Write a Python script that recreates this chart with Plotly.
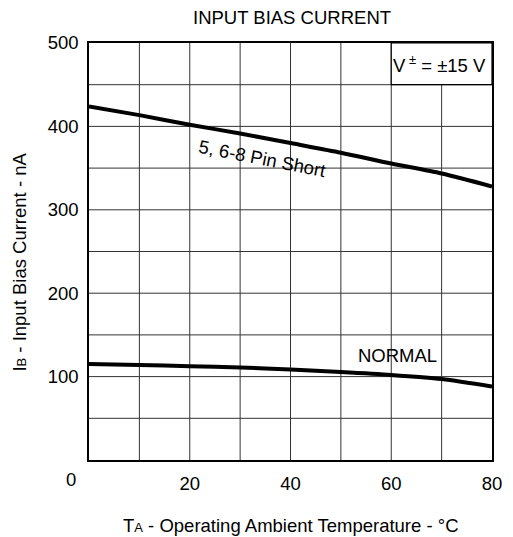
import plotly.graph_objects as go

temps = [0, 10, 20, 30, 40, 50, 60, 70, 80]
pin_short = [424, 413.5, 402, 391.5, 380, 368.5, 355.5, 343.5, 328]
normal = [115, 114, 112.5, 111, 108.5, 105.5, 102, 97, 88]
x_ticks = [20, 40, 60, 80]
y_ticks = [100, 200, 300, 400, 500]

FONT = "Liberation Sans, Arial, Helvetica, sans-serif"
FS = 18.5

fig = go.Figure()
fig.add_trace(go.Scatter(x=temps, y=pin_short, mode="lines",
                         line=dict(color="black", width=4, shape="spline", smoothing=0.8),
                         showlegend=False))
fig.add_trace(go.Scatter(x=temps, y=normal, mode="lines",
                         line=dict(color="black", width=4, shape="spline", smoothing=0.8),
                         showlegend=False))

fig.update_layout(
    width=513, height=537, autosize=False,
    margin=dict(l=89, r=11, t=43, b=77),
    plot_bgcolor="white", paper_bgcolor="white",
    font=dict(family=FONT, size=FS, color="black"),
    xaxis=dict(range=[0, 80], tickvals=x_ticks, ticks="",
               showgrid=False, zeroline=False,
               showline=True, linecolor="black", linewidth=1.5, mirror=True,
               ticklabelstandoff=6, tickfont=dict(size=FS)),
    yaxis=dict(range=[0, 500], tickvals=y_ticks, ticks="",
               showgrid=False, zeroline=False,
               showline=True, linecolor="black", linewidth=1.5, mirror=True,
               ticklabelstandoff=5, tickfont=dict(size=FS)),
)

# grid lines (every 10 degC, every 50 nA)
for gx in range(10, 80, 10):
    fig.add_shape(type="line", x0=gx, x1=gx, y0=0, y1=500, xref="x", yref="y",
                  line=dict(color="#333", width=1), layer="below")
for gy in range(50, 500, 50):
    fig.add_shape(type="line", x0=0, x1=80, y0=gy, y1=gy, xref="x", yref="y",
                  line=dict(color="#333", width=1), layer="below")

# condition box
fig.add_shape(type="rect", x0=60, x1=80, y0=450, y1=500, xref="x", yref="y",
              fillcolor="white", line=dict(color="black", width=1.2), layer="above")
fig.add_annotation(x=70, y=475, xref="x", yref="y", showarrow=False,
                   text="V<sup> ±</sup> = ±15 V", font=dict(size=FS), xshift=-2)

fig.add_annotation(x=34.4, y=362, xref="x", yref="y", showarrow=False,
                   text="5, 6-8 Pin Short", textangle=11, font=dict(size=FS))
fig.add_annotation(x=61.3, y=125, xref="x", yref="y", showarrow=False,
                   text="NORMAL", font=dict(size=FS))

# corner "0"
fig.add_annotation(x=0, y=0, xref="paper", yref="paper", showarrow=False,
                   xanchor="right", yanchor="middle", text="0",
                   xshift=-11, yshift=-19, font=dict(size=FS))

# titles
fig.add_annotation(x=0.503, y=1.062, xref="paper", yref="paper", showarrow=False,
                   text="INPUT BIAS CURRENT", font=dict(size=FS), yanchor="middle")
fig.add_annotation(x=0.5, y=-0.157, xref="paper", yref="paper", showarrow=False,
                   text="T<span style='font-size:13px'>A</span> - Operating Ambient Temperature - °C",
                   font=dict(size=FS), yanchor="middle")
fig.add_annotation(x=-0.172, y=0.475, xref="paper", yref="paper", showarrow=False,
                   text="I<span style='font-size:13px'>B</span> - Input Bias Current - nA",
                   textangle=-90, font=dict(size=FS), xanchor="center", yanchor="middle")

fig.write_html(
    "out.html",
    config={"displayModeBar": False, "responsive": False},
    post_script=("document.body.style.margin='0';"
                 "document.body.style.overflow='hidden';"
                 "var gd=document.getElementById('{plot_id}');"
                 "Plotly.relayout(gd,{width:513,height:537});"),
)
